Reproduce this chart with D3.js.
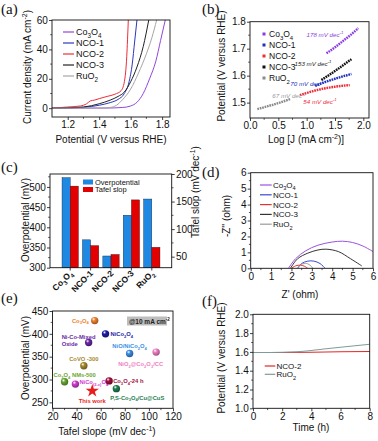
<!DOCTYPE html>
<meta charset="utf-8">
<script src="https://d3js.org/d3.v7.min.js"></script>
<style>
  body { margin: 0; background: #fff; }
  svg { font-family: "Liberation Sans", Arial, sans-serif; }
</style>
<div id="chart"></div>
<script>
// ---------- data ----------
const names = ["Co_{3}O_{4}", "NCO-1", "NCO-2", "NCO-3", "RuO_{2}"];
const colors = ["#9146dc", "#2a38bc", "#ee2c3a", "#222222", "#a6a6a6"];

// (a) polarization curves: [potential (V vs RHE), current density (mA cm-2)]
const lsvCo3O4 = [[1.1,0],[1.45,0.1],[1.55,0.5],[1.6,1.5],[1.64,4],[1.68,10],[1.72,20],[1.76,32],[1.79,46],[1.82,60]];
const lsvNCO1  = [[1.1,0],[1.2,0.2],[1.3,0.6],[1.4,2],[1.47,3.8],[1.52,6],[1.56,10],[1.59,18],[1.61,30],[1.625,45],[1.64,60]];
const lsvNCO2  = [[1.1,0],[1.2,0.8],[1.28,1.5],[1.32,3],[1.345,5],[1.37,5.5],[1.4,6.5],[1.45,8],[1.5,9.5],[1.54,12],[1.56,18],[1.575,35],[1.585,60]];
const lsvNCO3  = [[1.1,0],[1.2,0.2],[1.3,0.8],[1.4,3],[1.47,5.5],[1.52,8],[1.56,11],[1.6,18],[1.64,28],[1.68,42],[1.715,60]];
const lsvRuO2  = [[1.1,0],[1.4,0.1],[1.47,0.5],[1.51,2],[1.55,6],[1.6,13],[1.65,24],[1.7,37],[1.735,48],[1.765,60]];

// (b) Tafel plots: [log J, potential]
const tafCo3O4 = [[1.35,1.683],[1.5,1.705],[1.65,1.73],[1.8,1.755],[1.91,1.776]];
const tafNCO1  = [[1.15,1.562],[1.35,1.578],[1.55,1.592],[1.79,1.606]];
const tafNCO2  = [[0.88,1.528],[1.1,1.542],[1.3,1.552],[1.5,1.559],[1.76,1.565]];
const tafNCO3  = [[1.26,1.584],[1.45,1.61],[1.6,1.632],[1.79,1.661]];
const tafRuO2  = [[0.13,1.476],[0.4,1.492],[0.71,1.513]];
const tafelText = ["178 mV dec^{-1}", "70 mV dec^{-1}", "54 mV dec^{-1}", "153 mV dec^{-1}", "67 mV dec^{-1}"];

// (c) overpotential (mV) and Tafel slope (mV dec-1)
const overpot = [523, 369, 329, 430, 470];
const tafelSlope = [178, 70, 54, 153, 67];

// (d) Nyquist plots: [Z', -Z'']
const eisCo3O4 = [[1.85,0],[2.2,0.6],[2.7,1.1],[3.3,1.45],[4.0,1.65],[4.5,1.7],[5.0,1.62],[5.5,1.4],[6.0,1.05]];
const eisNCO1  = [[2.3,0],[2.5,0.3],[2.8,0.45],[3.1,0.45],[3.4,0.3],[3.65,0]];
const eisNCO2  = [[2.0,0],[2.2,0.15],[2.45,0.2],[2.65,0.12],[2.8,0]];
const eisNCO3  = [[1.95,0],[2.3,0.6],[2.8,0.95],[3.3,1.15],[3.7,1.2],[4.3,1.05],[4.9,0.6],[5.45,0.15]];
const eisRuO2  = [[2.3,0],[2.5,0.25],[2.75,0.3],[2.95,0.15],[3.05,0]];

// (e) comparison with literature @10 mA cm-2
const refNames = ["Co_{3}O_{4}", "NiCo_{2}O_{4}", "Ni-Co-Mixed|Oxide", "NiO/NiCo_{2}O_{4}", "NiO_{2}@Co_{2}O_{3}/CC",
                  "CoVO -300", "Co_{3}O_{4} NMs-500", "NiCo_{(2-x)}O_{4}", "Co_{3}O_{4}-24 h", "P,S-Co_{3}O_{4}/Cu@CuS", "This work"];
const refTafel = [55, 64, 50, 84, 106, 46, 30, 39, 67, 73, 53];
const refEta   = [429, 400, 381, 357, 360, 330, 295, 290, 297, 280, 275];
const refColors = ["#f0812c", "#1c1ca6", "#6a2aa6", "#3a90e6", "#f07ec4", "#a88a2c", "#6aa832", "#d23cd2", "#a01040", "#1f8052", "#e81c1c"];
// label offsets [dx, dy, anchor]
const refLabelPos = [[-6,2,"end"],[5,2,"start"],[-27,-4,"start"],[0,-5,"middle"],[-38,14,"start"],
                     [0,-5,"middle"],[-11,-5,"start"],[4,0,"start"],[4,2,"start"],[-6,11,"start"],[0,12,"middle"]];

// (f) chronopotentiometry: [time h, potential]
const stabNCO2 = [[0,1.593],[2,1.594],[4,1.597],[6,1.601],[8,1.604]];
const stabRuO2 = [[0,1.593],[2,1.596],[3,1.602],[4,1.615],[5,1.633],[6,1.65],[7,1.665],[8,1.682]];

// ---------- helpers ----------
const svg = d3.select("#chart").append("svg").attr("width", 378).attr("height", 441);
svg.append("rect").attr("width", 378).attr("height", 441).attr("fill", "#fff");
const defs = svg.append("defs");

// text with _{sub} and ^{sup}
function rich(sel, s, fs) {
  const re = /([_^])\{([^}]*)\}|([^_^]+)/g;
  let m, shift = 0;
  while ((m = re.exec(s))) {
    const target = m[3] ? 0 : (m[1] === "_" ? fs * 0.3 : -fs * 0.4);
    const t = sel.append("tspan").attr("dy", target - shift).text(m[3] || m[2]);
    if (!m[3]) t.attr("font-size", fs * 0.7);
    shift = target;
  }
  return sel;
}
function label(x, y, s, fs, o = {}) {
  const t = svg.append("text").attr("x", x).attr("y", y).attr("font-size", fs)
    .attr("fill", o.fill || "#111").attr("text-anchor", o.anchor || "start");
  if (o.weight) t.attr("font-weight", o.weight);
  if (o.style) t.attr("font-style", o.style);
  return rich(t, s, fs);
}
function vlabel(x, y, s, fs) {
  const t = svg.append("text").attr("transform", `translate(${x},${y}) rotate(-90)`)
    .attr("font-size", fs).attr("fill", "#111").attr("text-anchor", "middle");
  return rich(t, s, fs);
}
function panelTag(x, y, s) {
  svg.append("text").attr("x", x).attr("y", y).attr("font-family", "Liberation Serif, Times New Roman, serif")
    .attr("font-size", 15).attr("fill", "#111").text(s);
}
function styleAxis(a) {
  a.attr("font-family", null).attr("font-size", null);
  a.select(".domain").remove();
  a.selectAll("text").attr("font-size", 10).attr("fill", "#111");
  a.selectAll("line").attr("stroke", "#111").attr("stroke-width", 0.8);
}
function minor(g, vals, f) {
  g.append("g").selectAll("line").data(vals).join("line").each(function(d) { f(d3.select(this), d); })
    .attr("stroke", "#111").attr("stroke-width", 0.7);
}
const mids = t => d3.pairs(t, (a, b) => (a + b) / 2);
function frame(x, y, o) {
  const [x0, x1] = x.range(), [y0, y1] = y.range();
  const g = svg.append("g");
  styleAxis(g.append("g").attr("transform", `translate(0,${y0})`)
    .call(d3.axisBottom(x).tickValues(o.xt).tickFormat(o.xf).tickSize(3).tickPadding(1.2)));
  styleAxis(g.append("g").attr("transform", `translate(${x0},0)`)
    .call(d3.axisLeft(y).tickValues(o.yt).tickFormat(o.yf).tickSize(3).tickPadding(1.2)));
  minor(g, mids(o.xt), (s, d) => s.attr("x1", x(d)).attr("x2", x(d)).attr("y1", y0).attr("y2", y0 + 1.8));
  minor(g, mids(o.yt), (s, d) => s.attr("y1", y(d)).attr("y2", y(d)).attr("x1", x0).attr("x2", x0 - 1.8));
  g.append("rect").attr("x", x0).attr("y", y1).attr("width", x1 - x0).attr("height", y0 - y1)
    .attr("fill", "none").attr("stroke", "#111").attr("stroke-width", 0.9);
  return g;
}
function clip(id, x, y) {
  const [x0, x1] = x.range(), [y0, y1] = y.range();
  defs.append("clipPath").attr("id", id).append("rect").attr("x", x0).attr("y", y1).attr("width", x1 - x0).attr("height", y0 - y1);
  return svg.append("g").attr("clip-path", `url(#${id})`);
}

// ---------- (a) ----------
{
  const x = d3.scaleLinear().domain([1.1, 1.85]).range([52, 170]);
  const y = d3.scaleLinear().domain([-6, 60]).range([117, 20]);
  const line = d3.line().x(d => x(d[0])).y(d => y(d[1])).curve(d3.curveMonotoneX);
  const g = clip("ca", x, y);
  [lsvCo3O4, lsvNCO1, lsvNCO2, lsvNCO3, lsvRuO2].forEach((s, i) =>
    g.append("path").attr("d", line(s)).attr("fill", "none").attr("stroke", colors[i]).attr("stroke-width", 1));
  frame(x, y, { xt: [1.2, 1.4, 1.6, 1.8], xf: d3.format(".1f"), yt: [0, 20, 40, 60], yf: d3.format("d") });
  names.forEach((n, i) => {
    const yy = 32 + i * 11;
    svg.append("line").attr("x1", 63).attr("x2", 74).attr("y1", yy).attr("y2", yy).attr("stroke", colors[i]).attr("stroke-width", 1.2);
    label(76, yy + 3, n, 9);
  });
  vlabel(31, 67, "Current density (mA cm^{-2})", 10);
  label(111, 143, "Potential (V versus RHE)", 10, { anchor: "middle" });
  panelTag(1, 14, "(a)");
}

// ---------- (b) ----------
{
  const x = d3.scaleLinear().domain([0, 2.1]).range([250, 369]);
  const y = d3.scaleLinear().domain([1.443, 1.8]).range([118, 21.7]);
  const line = d3.line().x(d => x(d[0])).y(d => y(d[1])).curve(d3.curveMonotoneX);
  const bcol = ["#8a3ce0", "#2030c0", "#ee2c3a", "#111111", "#8a8a8a"];
  [tafCo3O4, tafNCO1, tafNCO2, tafNCO3, tafRuO2].forEach((s, i) =>
    svg.append("path").attr("d", line(s)).attr("fill", "none").attr("stroke", bcol[i])
      .attr("stroke-width", 2.4).attr("stroke-dasharray", "1.7,0.8"));
  frame(x, y, { xt: [0, 0.5, 1, 1.5, 2], xf: d3.format(".1f"), yt: [1.5, 1.6, 1.7, 1.8], yf: d3.format(".1f") });
  names.forEach((n, i) => {
    const yy = 34 + i * 11;
    svg.append("rect").attr("x", 262.5).attr("y", yy - 1.5).attr("width", 3).attr("height", 3).attr("fill", bcol[i]);
    label(269, yy + 3, n, 8.5);
  });
  // slope annotations
  const annPos = [[325, 36.5], [307, 85.5], [320, 103.5], [313, 65.5], [289, 98]];
  const annCol = ["#8a3ce0", "#2030c0", "#ee2c3a", "#222222", "#9a9a9a"];
  tafelText.forEach((t, i) => label(annPos[i][0], annPos[i][1], t, 6.2,
    { anchor: "middle", style: "italic", fill: annCol[i] }));
  vlabel(225, 66, "Potential (V versus RHE)", 10);
  label(306, 143, "Log [J (mA cm^{-2})]", 10, { anchor: "middle" });
  panelTag(202, 14, "(b)");
}

// ---------- (c) ----------
{
  const x = d3.scaleBand().domain(names).range([60, 162]).paddingInner(0.2).paddingOuter(0.1);
  const yL = d3.scaleLinear().domain([300, 532]).range([267.7, 174]);
  const yR = d3.scaleLinear().domain([30, 200]).range([267.7, 174]);
  const bw = x.bandwidth() / 2;
  names.forEach((n, i) => {
    svg.append("rect").attr("x", x(n)).attr("y", yL(overpot[i])).attr("width", bw).attr("height", yL(300) - yL(overpot[i]))
      .attr("fill", "#1f88e3").attr("stroke", "#123").attr("stroke-width", 0.4);
    svg.append("rect").attr("x", x(n) + bw).attr("y", yR(tafelSlope[i])).attr("width", bw).attr("height", yR(30) - yR(tafelSlope[i]))
      .attr("fill", "#e30000").attr("stroke", "#311").attr("stroke-width", 0.4);
  });
  const g = svg.append("g");
  styleAxis(g.append("g").attr("transform", "translate(50,0)")
    .call(d3.axisLeft(yL).tickValues([300, 350, 400, 450, 500]).tickSize(3).tickPadding(1.2)));
  styleAxis(g.append("g").attr("transform", "translate(171.7,0)")
    .call(d3.axisRight(yR).tickValues([50, 100, 150, 200]).tickSize(3).tickPadding(1.2)));
  minor(g, [325, 375, 425, 475, 525], (s, d) => s.attr("y1", yL(d)).attr("y2", yL(d)).attr("x1", 50).attr("x2", 48.2));
  minor(g, [75, 125, 175], (s, d) => s.attr("y1", yR(d)).attr("y2", yR(d)).attr("x1", 171.7).attr("x2", 173.5));
  g.append("rect").attr("x", 50).attr("y", 174).attr("width", 121.7).attr("height", 93.7)
    .attr("fill", "none").attr("stroke", "#111").attr("stroke-width", 0.9);
  names.forEach(n => {
    const cx = x(n) + x.bandwidth() / 2;
    g.append("line").attr("x1", cx).attr("x2", cx).attr("y1", 267.7).attr("y2", 270.5).attr("stroke", "#111").attr("stroke-width", 0.8);
    const t = svg.append("text").attr("transform", `translate(${cx + 3},${274}) rotate(-45)`)
      .attr("font-size", 8.5).attr("font-weight", "bold").attr("text-anchor", "end").attr("fill", "#111");
    rich(t, n, 8.5);
  });
  svg.append("rect").attr("x", 83).attr("y", 179.5).attr("width", 10).attr("height", 5).attr("fill", "#1f88e3");
  svg.append("rect").attr("x", 83).attr("y", 187).attr("width", 10).attr("height", 5).attr("fill", "#e30000");
  label(95, 184.8, "Overpotential", 7.5);
  label(95, 192.3, "Tafel slop", 7.5);
  vlabel(29, 220, "Overpotential (mV)", 10);
  vlabel(198.5, 192, "Tafel slop (mV dec^{-1})", 10);
  panelTag(1, 172, "(c)");
}

// ---------- (d) ----------
{
  const x = d3.scaleLinear().domain([0, 6]).range([250.7, 373]);
  const y = d3.scaleLinear().domain([0, 6]).range([268.3, 172.7]);
  const line = d3.line().x(d => x(d[0])).y(d => y(d[1])).curve(d3.curveCatmullRom);
  const g = clip("cd", x, y);
  const dcol = ["#9a52e0", "#3c48d2", "#e23434", "#333333", "#9c9c9c"];
  [eisCo3O4, eisNCO1, eisNCO2, eisNCO3, eisRuO2].forEach((s, i) =>
    g.append("path").attr("d", line(s)).attr("fill", "none").attr("stroke", dcol[i]).attr("stroke-width", 1));
  frame(x, y, { xt: [0, 1, 2, 3, 4, 5, 6], xf: d3.format("d"), yt: [0, 1, 2, 3, 4, 5, 6], yf: d3.format("d") });
  names.forEach((n, i) => {
    const yy = 185 + i * 9.8;
    svg.append("line").attr("x1", 260).attr("x2", 271.7).attr("y1", yy).attr("y2", yy).attr("stroke", dcol[i]).attr("stroke-width", 1.2);
    label(273, yy + 3, n, 8);
  });
  vlabel(229.5, 216, "-Z'' (ohm)", 10);
  label(300, 298, "Z' (ohm)", 10, { anchor: "middle" });
  panelTag(202, 177, "(d)");
}

// ---------- (e) ----------
{
  const x = d3.scaleLinear().domain([20, 120]).range([52.5, 173]);
  const y = d3.scaleLinear().domain([237, 450]).range([408.3, 311]);
  frame(x, y, { xt: [20, 40, 60, 80, 100, 120], xf: d3.format("d"), yt: [250, 300, 350, 400, 450], yf: d3.format("d") });
  refNames.forEach((n, i) => {
    const px = x(refTafel[i]), py = y(refEta[i]);
    if (n === "This work") {
      svg.append("path").attr("transform", `translate(${px},${py})`).attr("d", d3.symbol(d3.symbolStar).size(55)())
        .attr("fill", refColors[i]);
    } else {
      const gid = "ball" + i;
      const rg = defs.append("radialGradient").attr("id", gid).attr("cx", 0.4).attr("cy", 0.35).attr("r", 0.65).attr("fx", 0.35).attr("fy", 0.3);
      rg.append("stop").attr("offset", "0%").attr("stop-color", "#fff");
      rg.append("stop").attr("offset", "35%").attr("stop-color", refColors[i]);
      rg.append("stop").attr("offset", "100%").attr("stop-color", d3.color(refColors[i]).darker(1.2));
      svg.append("circle").attr("cx", px).attr("cy", py).attr("r", 3.7).attr("fill", `url(#${gid})`);
    }
    const [dx, dy, anc] = refLabelPos[i];
    n.split("|").forEach((part, k) =>
      label(px + dx, py + dy + k * 7, part, 5.8, { anchor: anc, weight: "bold", fill: refColors[i] }));
  });
  svg.append("rect").attr("x", 127).attr("y", 316.5).attr("width", 40).attr("height", 9).attr("fill", "#bdbdbd");
  label(129, 323.5, "@10 mA cm^{-2}", 6.5, { weight: "bold", fill: "#222" });
  vlabel(28.5, 358, "Overpotential (mV)", 10);
  label(107, 435, "Tafel slope (mV dec^{-1})", 10, { anchor: "middle" });
  panelTag(1, 303, "(e)");
}

// ---------- (f) ----------
{
  const x = d3.scaleLinear().domain([0, 8]).range([253, 369.7]);
  const y = d3.scaleLinear().domain([1, 2]).range([408.3, 314.3]);
  const line = d3.line().x(d => x(d[0])).y(d => y(d[1])).curve(d3.curveMonotoneX);
  const fcol = ["#e02828", "#7f9c9c"];
  [stabNCO2, stabRuO2].forEach((s, i) =>
    svg.append("path").attr("d", line(s)).attr("fill", "none").attr("stroke", fcol[i]).attr("stroke-width", 1.1));
  frame(x, y, { xt: [0, 2, 4, 6, 8], xf: d3.format("d"), yt: [1.0, 1.2, 1.4, 1.6, 1.8, 2.0], yf: d3.format(".1f") });
  ["NCO-2", "RuO_{2}"].forEach((n, i) => {
    const yy = 366 + i * 8.3;
    svg.append("line").attr("x1", 264.7).attr("x2", 275.3).attr("y1", yy).attr("y2", yy).attr("stroke", fcol[i]).attr("stroke-width", 1.2);
    label(276.5, yy + 3, n, 8);
  });
  vlabel(224.5, 358, "Potential (V versus RHE)", 10);
  label(311, 431, "Time (h)", 10, { anchor: "middle" });
  panelTag(202, 306, "(f)");
}
</script>
